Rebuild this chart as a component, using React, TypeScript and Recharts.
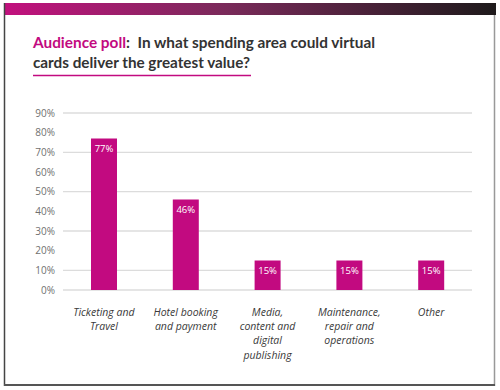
import React from 'react';
import { BarChart, Bar, XAxis, YAxis, CartesianGrid, LabelList } from 'recharts';

const categories = [
  'Ticketing and\nTravel',
  'Hotel booking\nand payment',
  'Media,\ncontent and\ndigital\npublishing',
  'Maintenance,\nrepair and\noperations',
  'Other',
];
const values = [77, 46, 15, 15, 15];
const yTicks = [0, 10, 20, 30, 40, 50, 60, 70, 80, 90];

const data = categories.map((c, i) => ({ name: c, value: values[i] }));

const MAGENTA = '#C20A80';

const CatTick = (props: any) => {
  const { x, y, payload } = props;
  const lines = String(payload.value).split('\n');
  return (
    <text
      x={x}
      y={y}
      textAnchor="middle"
      fill="#3a3a3a"
      fontSize={10.5}
      fontStyle="italic"
      fontFamily="'Open Sans', sans-serif"
    >
      {lines.map((l, i) => (
        <tspan key={i} x={x} dy={i === 0 ? 18 : 14.2}>
          {l}
        </tspan>
      ))}
    </text>
  );
};

export default function App() {
  return (
    <div style={{ position: 'absolute', left: 0, top: 0, width: 500, height: 390, background: '#fff', overflow: 'hidden' }}>
      <div style={{ position: 'absolute', left: 0, top: 0 }}>
        <BarChart
          width={500}
          height={390}
          data={data}
          margin={{ top: 113, right: 28, bottom: 0, left: 0 }}
        >
          <CartesianGrid vertical={false} stroke="#dcdcdc" strokeWidth={1.3} />
          <XAxis
            dataKey="name"
            axisLine={false}
            tickLine={false}
            interval={0}
            height={100}
            tick={<CatTick />}
          />
          <YAxis
            width={63}
            domain={[0, 90]}
            ticks={yTicks}
            axisLine={false}
            tickLine={false}
            tickFormatter={(v: number) => `${v}%`}
            tick={{ fill: '#707070', fontSize: 10, fontFamily: "'Open Sans', sans-serif" }}
          />
          <Bar dataKey="value" fill={MAGENTA} barSize={26} isAnimationActive={false}>
            <LabelList
              dataKey="value"
              position="insideTop"
              offset={7}
              formatter={(v: any) => `${v}%`}
              fill="#ffffff"
              fontSize={9.5}
              fontFamily="'Open Sans', sans-serif"
            />
          </Bar>
        </BarChart>
      </div>
      <svg width={500} height={390} style={{ position: 'absolute', left: 0, top: 0, pointerEvents: 'none' }}>
        <defs>
          <linearGradient id="topband" x1="0" y1="0" x2="1" y2="0">
            <stop offset="0" stopColor="#C2117E" />
            <stop offset="0.45" stopColor="#7a2a5a" />
            <stop offset="1" stopColor="#1e1a1b" />
          </linearGradient>
        </defs>
        <rect x={4} y={3} width={492} height={12} fill="url(#topband)" />
        <line x1={4.5} y1={3} x2={4.5} y2={386} stroke="#444" strokeWidth={1.5} />
        <line x1={494.5} y1={15} x2={494.5} y2={386} stroke="#999" strokeWidth={1.5} />
        <line x1={4} y1={385} x2={495} y2={385} stroke="#555" strokeWidth={2} />
        <g fontFamily="Lato, sans-serif" fontWeight={700} fontSize={16}>
          <text x={33} y={48} fill="#333" textLength={342} lengthAdjust="spacingAndGlyphs">
            <tspan fill={MAGENTA}>Audience poll</tspan>
            <tspan>{':\u00a0 In what spending area could virtual'}</tspan>
          </text>
          <text x={33} y={67.5} fill="#333" textLength={217} lengthAdjust="spacingAndGlyphs">cards deliver the greatest value?</text>
        </g>
        <line x1={33} y1={75.5} x2={251} y2={75.5} stroke={MAGENTA} strokeWidth={1.5} />
      </svg>
    </div>
  );
}
